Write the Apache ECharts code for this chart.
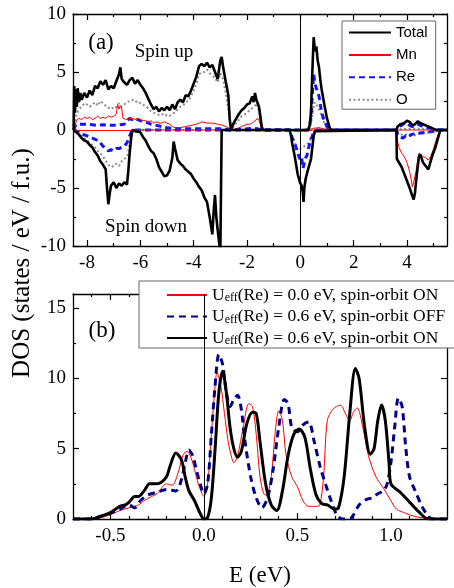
<!DOCTYPE html>
<html>
<head>
<meta charset="utf-8">
<script src="https://cdn.jsdelivr.net/npm/echarts@6/dist/echarts.min.js"></script>
<style>
  html, body { margin: 0; padding: 0; background: #fff; }
  #chart { width: 454px; height: 588px; }
</style>
</head>
<body>
<div id="chart"></div>
<script>
// panel (a): DOS, spin up > 0, spin down < 0, pairs [E, DOS]
var totalUp = [[-8.5,0],[-8.48,3.8],[-8.45,1.5],[-8.42,3.5],[-8.38,2.0],[-8.35,3.6],[-8.3,2.4],[-8.25,3.2],[-8.2,2.6],[-8.1,3.2],[-8.0,2.8],[-7.9,3.4],[-7.8,3.0],[-7.7,3.8],[-7.6,3.6],[-7.5,4.2],[-7.4,3.9],[-7.3,4.3],[-7.2,3.5],[-7.1,3.8],[-7.0,3.6],[-6.9,4.2],[-6.8,4.8],[-6.75,5.4],[-6.7,4.4],[-6.6,4.1],[-6.5,3.9],[-6.4,4.3],[-6.3,4.5],[-6.2,4.0],[-6.1,4.3],[-6.0,3.9],[-5.9,3.6],[-5.8,3.2],[-5.7,2.7],[-5.6,2.2],[-5.5,1.8],[-5.4,2.0],[-5.3,1.6],[-5.2,1.9],[-5.1,1.7],[-5.0,2.0],[-4.9,1.7],[-4.8,2.2],[-4.7,1.8],[-4.6,2.4],[-4.5,2.6],[-4.4,2.4],[-4.3,3.0],[-4.2,2.9],[-4.1,3.4],[-4.0,4.0],[-3.9,4.6],[-3.8,5.5],[-3.7,5.7],[-3.6,5.5],[-3.5,5.8],[-3.4,5.4],[-3.3,5.6],[-3.2,5.0],[-3.1,4.4],[-3.0,6.0],[-2.95,6.3],[-2.9,5.5],[-2.8,4.2],[-2.7,3.0],[-2.65,1.0],[-2.6,0],[-2.5,0.6],[-2.4,1.0],[-2.3,1.4],[-2.2,1.7],[-2.1,1.9],[-2.0,2.2],[-1.9,2.3],[-1.8,2.9],[-1.75,2.4],[-1.7,3.2],[-1.65,2.6],[-1.6,2.7],[-1.55,2.0],[-1.5,1.2],[-1.45,0.3],[-1.4,0],[0.3,0],[0.35,0.4],[0.4,1.5],[0.45,5.0],[0.5,8.0],[0.55,6.8],[0.6,7.2],[0.65,6.0],[0.7,5.4],[0.75,4.3],[0.8,3.5],[0.9,2.2],[1.0,1.0],[1.1,0.2],[1.15,0],[3.6,0],[3.65,0.3],[3.75,0.5],[3.9,0.6],[4.0,0.8],[4.1,0.7],[4.2,0.4],[4.3,0.5],[4.4,0.75],[4.5,0.6],[4.6,0.5],[4.7,0.4],[4.8,0.3],[4.9,0.2],[5.0,0.1],[5.1,0],[5.5,0]];
var totalDown = [[-8.5,0],[-8.4,-0.2],[-8.3,-0.4],[-8.2,-0.7],[-8.1,-0.9],[-8.0,-1.0],[-7.9,-1.3],[-7.8,-1.5],[-7.7,-1.9],[-7.6,-2.2],[-7.5,-2.7],[-7.4,-3.0],[-7.3,-3.4],[-7.25,-5.0],[-7.2,-6.4],[-7.15,-5.5],[-7.1,-4.8],[-7.0,-4.5],[-6.9,-5.0],[-6.8,-4.6],[-6.7,-4.8],[-6.6,-4.5],[-6.5,-4.7],[-6.45,-3.5],[-6.4,-2.0],[-6.35,-0.8],[-6.3,0],[-6.2,-0.1],[-6.0,-0.2],[-5.9,-0.6],[-5.8,-0.9],[-5.7,-1.4],[-5.6,-1.8],[-5.5,-2.0],[-5.4,-2.5],[-5.3,-3.2],[-5.2,-3.6],[-5.1,-4.0],[-5.0,-3.9],[-4.9,-3.5],[-4.8,-2.4],[-4.75,-1.0],[-4.7,-1.6],[-4.6,-2.6],[-4.5,-2.9],[-4.4,-3.1],[-4.3,-3.4],[-4.2,-3.6],[-4.1,-3.8],[-4.0,-4.2],[-3.9,-4.5],[-3.8,-4.9],[-3.7,-5.2],[-3.6,-5.8],[-3.5,-6.2],[-3.4,-7.5],[-3.3,-9.0],[-3.25,-7.0],[-3.2,-5.6],[-3.15,-7.5],[-3.1,-8.6],[-3.05,-9.6],[-3.0,-10.5],[-2.97,-10.5],[-2.95,0],[-0.4,0],[-0.35,-0.5],[-0.3,-1.2],[-0.2,-2.4],[-0.1,-3.8],[0.0,-4.6],[0.05,-4.8],[0.1,-5.5],[0.12,-6.2],[0.15,-5.0],[0.2,-4.2],[0.3,-3.3],[0.4,-2.5],[0.45,-1.5],[0.5,-0.5],[0.55,-0.1],[0.6,0],[3.6,0],[3.62,-2.5],[3.7,-2.8],[3.8,-3.2],[3.9,-3.8],[4.0,-4.4],[4.1,-5.0],[4.2,-5.7],[4.25,-6.0],[4.3,-5.4],[4.35,-4.2],[4.4,-3.2],[4.45,-2.3],[4.5,-2.1],[4.6,-2.8],[4.7,-3.1],[4.8,-3.4],[4.85,-3.3],[4.9,-2.6],[4.95,-2.2],[5.05,-1.6],[5.15,-0.8],[5.25,0],[5.5,0]];
var mnUp = [[-8.5,0],[-8.45,0.3],[-8.4,0.8],[-8.3,1.0],[-8.2,0.9],[-8.1,1.1],[-8.0,1.0],[-7.9,1.1],[-7.8,0.9],[-7.7,1.0],[-7.6,1.2],[-7.5,1.0],[-7.4,1.1],[-7.3,1.0],[-7.2,1.2],[-7.1,1.1],[-7.0,1.2],[-6.9,1.4],[-6.85,2.2],[-6.8,1.8],[-6.75,2.1],[-6.7,1.9],[-6.65,1.0],[-6.6,0.9],[-6.5,0.9],[-6.4,1.0],[-6.3,1.0],[-6.2,0.9],[-6.1,1.0],[-6.0,0.9],[-5.9,0.8],[-5.8,0.8],[-5.7,0.7],[-5.6,0.8],[-5.5,0.6],[-5.4,0.7],[-5.3,0.6],[-5.2,0.6],[-5.1,0.7],[-5.0,0.6],[-4.9,0.5],[-4.8,0.3],[-4.7,0.2],[-4.5,0.2],[-4.3,0.3],[-4.1,0.4],[-3.9,0.5],[-3.7,0.7],[-3.5,0.6],[-3.3,0.6],[-3.1,0.5],[-2.9,0.4],[-2.7,0.2],[-2.6,0],[-2.4,0.1],[-2.2,0.3],[-2.0,0.5],[-1.9,0.5],[-1.8,0.6],[-1.7,0.8],[-1.6,1.0],[-1.55,0.8],[-1.5,0.5],[-1.45,0],[0.3,0],[0.5,0.15],[0.7,0.2],[0.9,0.1],[1.0,0],[5.5,0]];
var mnDown = [[-8.5,0],[-8.3,-0.05],[-6.3,-0.05],[-6.2,0],[-0.4,0],[-0.2,-0.1],[0.2,-0.1],[0.5,0],[3.6,0],[3.65,-1.0],[3.7,-1.5],[3.8,-2.0],[3.9,-2.3],[4.0,-2.8],[4.1,-3.6],[4.15,-4.2],[4.2,-4.9],[4.25,-4.5],[4.3,-4.0],[4.35,-3.4],[4.4,-2.6],[4.45,-2.0],[4.5,-1.9],[4.6,-2.3],[4.7,-2.4],[4.8,-2.6],[4.85,-2.5],[4.9,-2.2],[5.0,-1.6],[5.1,-0.8],[5.2,-0.2],[5.25,0],[5.5,0]];
var reUp = [[-8.5,0],[-8.45,0.3],[-8.4,0.5],[-8.2,0.5],[-8.0,0.5],[-7.8,0.45],[-7.6,0.4],[-7.4,0.45],[-7.2,0.4],[-7.0,0.4],[-6.8,0.45],[-6.6,0.5],[-6.5,0.8],[-6.4,1.0],[-6.3,0.9],[-6.2,1.0],[-6.0,0.8],[-5.8,0.7],[-5.6,0.5],[-5.4,0.4],[-5.2,0.3],[-5.0,0.2],[-4.8,0.15],[-4.5,0.1],[-4.0,0.1],[-3.5,0.1],[-3.0,0.1],[-2.6,0],[-2.4,0.05],[-2.0,0.1],[-1.8,0.15],[-1.6,0.1],[-1.45,0],[0.3,0],[0.35,0.3],[0.4,1.2],[0.45,3.0],[0.5,4.8],[0.55,4.0],[0.6,3.6],[0.65,3.3],[0.7,2.9],[0.75,2.2],[0.8,1.5],[0.9,0.8],[1.0,0.3],[1.1,0],[3.6,0],[3.7,0.3],[3.8,0.4],[3.9,0.6],[4.0,0.6],[4.1,0.4],[4.2,0.3],[4.3,0.4],[4.4,0.5],[4.5,0.4],[4.6,0.3],[4.8,0.2],[5.0,0.1],[5.1,0],[5.5,0]];
var reDown = [[-8.5,0],[-8.4,-0.1],[-8.3,-0.2],[-8.2,-0.35],[-8.0,-0.5],[-7.9,-0.6],[-7.8,-0.7],[-7.6,-0.9],[-7.5,-1.1],[-7.4,-1.4],[-7.3,-1.6],[-7.2,-1.8],[-7.1,-1.7],[-7.0,-1.8],[-6.9,-1.6],[-6.8,-1.6],[-6.7,-1.5],[-6.6,-1.4],[-6.5,-1.1],[-6.4,-0.5],[-6.3,0],[-0.4,0],[-0.35,-0.3],[-0.3,-0.7],[-0.2,-1.2],[-0.1,-2.0],[0.0,-2.6],[0.05,-2.4],[0.1,-3.3],[0.15,-2.8],[0.2,-2.4],[0.25,-2.2],[0.3,-1.6],[0.4,-0.8],[0.5,-0.2],[0.6,0],[3.6,0],[3.65,-0.4],[3.75,-0.6],[3.85,-0.7],[3.95,-0.5],[4.05,-0.6],[4.15,-0.4],[4.3,-0.3],[4.5,-0.25],[4.7,-0.2],[5.0,-0.1],[5.2,0],[5.5,0]];
var oUp = [[-8.5,0],[-8.45,0.5],[-8.4,1.3],[-8.3,1.8],[-8.2,2.0],[-8.1,2.3],[-8.0,2.2],[-7.9,2.0],[-7.8,2.2],[-7.7,2.4],[-7.6,2.1],[-7.5,2.5],[-7.4,2.3],[-7.3,2.1],[-7.2,1.9],[-7.1,2.0],[-7.0,1.8],[-6.9,2.0],[-6.8,2.3],[-6.7,2.0],[-6.6,2.2],[-6.5,2.4],[-6.4,2.5],[-6.3,2.6],[-6.2,2.4],[-6.1,2.5],[-6.0,2.3],[-5.9,2.2],[-5.8,2.0],[-5.7,1.9],[-5.6,1.6],[-5.5,1.5],[-5.4,1.4],[-5.3,1.3],[-5.2,1.4],[-5.1,1.2],[-5.0,1.3],[-4.9,1.2],[-4.8,1.4],[-4.7,1.5],[-4.6,1.8],[-4.5,2.0],[-4.4,2.1],[-4.3,2.4],[-4.2,2.5],[-4.1,2.9],[-4.0,3.4],[-3.9,4.0],[-3.8,4.8],[-3.7,5.0],[-3.6,5.0],[-3.5,5.2],[-3.4,4.9],[-3.3,4.7],[-3.2,4.5],[-3.1,4.1],[-3.0,4.9],[-2.95,5.0],[-2.9,4.4],[-2.8,3.2],[-2.7,1.8],[-2.65,0.7],[-2.6,0.1],[-2.5,0.3],[-2.4,0.6],[-2.3,0.9],[-2.2,1.2],[-2.1,1.3],[-2.0,1.5],[-1.9,1.7],[-1.8,1.9],[-1.7,2.1],[-1.65,2.3],[-1.6,2.0],[-1.55,1.6],[-1.5,0.8],[-1.45,0.2],[-1.4,0],[0.3,0],[0.4,0.5],[0.45,1.2],[0.5,2.0],[0.55,2.4],[0.6,2.2],[0.65,2.0],[0.7,1.8],[0.75,1.5],[0.8,1.2],[0.9,0.6],[1.0,0.2],[1.1,0],[3.6,0],[3.7,0.05],[4.0,0.1],[4.5,0.1],[5.0,0.05],[5.1,0],[5.5,0]];
var oDown = [[-8.5,0],[-8.4,-0.1],[-8.3,-0.3],[-8.2,-0.5],[-8.1,-0.7],[-8.0,-0.9],[-7.9,-1.1],[-7.8,-1.3],[-7.7,-1.5],[-7.6,-1.8],[-7.5,-2.0],[-7.4,-2.3],[-7.3,-2.6],[-7.2,-3.0],[-7.1,-3.2],[-7.0,-3.1],[-6.9,-2.9],[-6.8,-3.1],[-6.7,-2.7],[-6.6,-2.5],[-6.5,-2.3],[-6.45,-1.8],[-6.4,-1.1],[-6.35,-0.4],[-6.3,0],[-0.4,0],[-0.35,-0.3],[-0.3,-0.6],[-0.2,-1.1],[-0.1,-1.7],[-0.05,-1.8],[0.0,-1.6],[0.1,-1.5],[0.2,-1.3],[0.3,-1.1],[0.4,-0.7],[0.5,-0.2],[0.6,0],[3.6,0],[3.7,-0.3],[3.8,-0.4],[3.9,-0.35],[4.0,-0.4],[4.1,-0.5],[4.2,-0.5],[4.3,-0.45],[4.4,-0.35],[4.5,-0.3],[4.7,-0.25],[4.9,-0.2],[5.1,-0.1],[5.2,0],[5.5,0]];

// panel (b): DOS near the Fermi level
var u00SoOn = [[-0.7,0],[-0.58,0],[-0.55,0.1],[-0.5,0.3],[-0.45,0.6],[-0.4,0.8],[-0.35,1.0],[-0.32,1.3],[-0.28,1.6],[-0.25,1.8],[-0.2,2.5],[-0.17,2.4],[-0.14,3.2],[-0.11,4.6],[-0.09,4.8],[-0.07,4.4],[-0.05,3.5],[-0.03,2.5],[-0.01,1.8],[0.0,1.6],[0.02,2.5],[0.04,6.0],[0.06,9.5],[0.07,10.4],[0.09,9.5],[0.11,7.5],[0.13,5.5],[0.15,4.3],[0.16,4.0],[0.18,4.5],[0.21,6.5],[0.24,8.2],[0.26,8.0],[0.28,6.0],[0.3,3.0],[0.32,1.8],[0.335,1.7],[0.36,3.0],[0.38,6.0],[0.4,7.7],[0.42,7.0],[0.44,4.5],[0.47,3.0],[0.5,2.3],[0.53,1.3],[0.56,0.9],[0.6,0.9],[0.62,1.0],[0.64,3.0],[0.66,7.0],[0.69,7.8],[0.73,8.1],[0.76,7.4],[0.78,7.0],[0.8,7.6],[0.82,7.9],[0.85,6.5],[0.88,4.5],[0.92,3.0],[0.96,2.2],[1.0,1.3],[1.03,0.7],[1.08,0.4],[1.12,0.2],[1.18,0.05],[1.2,0],[1.3,0]];
var u06SoOff = [[-0.7,0],[-0.6,0],[-0.55,0.2],[-0.5,0.4],[-0.45,0.7],[-0.4,1.0],[-0.37,0.8],[-0.34,1.3],[-0.3,1.7],[-0.25,1.9],[-0.2,2.1],[-0.15,2.0],[-0.12,2.8],[-0.1,4.0],[-0.08,4.9],[-0.06,4.5],[-0.04,3.5],[-0.02,2.5],[0.0,1.8],[0.02,2.5],[0.04,6.0],[0.06,9.5],[0.08,11.7],[0.1,11.0],[0.12,9.0],[0.14,8.0],[0.16,8.5],[0.18,8.8],[0.2,7.8],[0.22,5.5],[0.25,3.0],[0.28,1.5],[0.31,0.8],[0.34,1.5],[0.37,3.5],[0.4,6.5],[0.43,8.5],[0.45,8.2],[0.47,6.5],[0.5,6.2],[0.53,6.7],[0.56,6.9],[0.59,5.5],[0.62,3.8],[0.65,2.5],[0.68,1.3],[0.71,0.3],[0.74,0],[0.78,0],[0.8,0.3],[0.83,1.0],[0.87,1.4],[0.9,1.5],[0.93,1.8],[0.96,2.0],[0.98,2.5],[1.0,4.0],[1.02,6.5],[1.04,8.6],[1.06,8.0],[1.08,5.0],[1.1,3.0],[1.13,2.0],[1.17,0.8],[1.2,0.2],[1.22,0],[1.3,0]];
var u06SoOn = [[-0.7,0],[-0.6,0],[-0.55,0.2],[-0.5,0.45],[-0.45,0.9],[-0.42,1.0],[-0.4,1.2],[-0.37,1.6],[-0.35,1.6],[-0.32,2.0],[-0.29,2.5],[-0.26,2.5],[-0.23,2.6],[-0.2,3.0],[-0.18,3.8],[-0.15,4.7],[-0.12,4.2],[-0.1,3.0],[-0.08,2.0],[-0.05,1.3],[-0.02,0.4],[0.0,0],[0.02,0.1],[0.04,1.5],[0.06,5.0],[0.08,9.0],[0.1,10.5],[0.12,9.0],[0.14,6.5],[0.16,5.0],[0.18,4.4],[0.2,4.8],[0.23,6.8],[0.26,7.6],[0.28,7.5],[0.3,5.5],[0.33,2.5],[0.36,1.0],[0.39,0.6],[0.42,2.0],[0.45,4.5],[0.48,6.0],[0.51,6.4],[0.54,5.8],[0.57,3.5],[0.6,1.7],[0.63,1.1],[0.66,1.0],[0.7,0.7],[0.72,0.8],[0.75,3.0],[0.78,7.5],[0.81,10.7],[0.83,10.0],[0.86,6.5],[0.89,4.6],[0.91,5.0],[0.93,7.0],[0.95,8.1],[0.97,7.0],[0.99,4.0],[1.0,2.5],[1.05,1.9],[1.1,1.2],[1.15,0.5],[1.2,0],[1.3,0]];

// ticks
var aXMajor = [-8, -6, -4, -2, 0, 2, 4];
var aXMinor = [-7, -5, -3, -1, 1, 3, 5];
var aYMajor = [-10, -5, 0, 5, 10];
var aYMinor = [-7.5, -2.5, 2.5, 7.5];
var bXMajor = [-0.5, 0, 0.5, 1.0];
var bXMinor = [-0.6, -0.4, -0.3, -0.2, -0.1, 0.1, 0.2, 0.3, 0.4, 0.6, 0.7, 0.8, 0.9, 1.1, 1.2];
var bYMajor = [0, 5, 10, 15];
var bYMinor = [2.5, 7.5, 12.5];

var serif = 'Liberation Serif';

// 4 axes per dimension: main + minor ticks, on both sides
function makeAxes(grid, dim, min, max, majors, minors, fmt) {
  var sides = dim === 'x' ? ['bottom', 'top'] : ['left', 'right'];
  var out = [];
  sides.forEach(function (pos, si) {
    [true, false].forEach(function (isMajor) {
      out.push({
        type: 'value', gridIndex: grid, min: min, max: max, position: pos,
        axisLine: { show: isMajor, onZero: false, lineStyle: { color: '#000', width: 1.3 } },
        axisTick: {
          show: true, inside: true, length: isMajor ? 6 : 3,
          customValues: isMajor ? majors : minors,
          lineStyle: { color: '#000', width: 1.2 }
        },
        axisLabel: {
          show: isMajor && si === 0, customValues: majors, formatter: fmt,
          fontFamily: serif, fontSize: 19, color: '#000', margin: dim === 'x' ? 8 : 7
        },
        splitLine: { show: false }
      });
    });
  });
  return out;
}

var intFmt = function (v) { return String(Math.round(v)); };
var oneFmt = function (v) { return v.toFixed(1); };

var xAxes = makeAxes(0, 'x', -8.525, 5.5, aXMajor, aXMinor, intFmt)
  .concat(makeAxes(1, 'x', -0.7, 1.3, bXMajor, bXMinor, oneFmt));
var yAxes = makeAxes(0, 'y', -10, 10, aYMajor, aYMinor, intFmt)
  .concat(makeAxes(1, 'y', 0, 16, bYMajor, bYMinor, intFmt));
xAxes[4].name = 'E (eV)';
xAxes[4].nameLocation = 'middle';
xAxes[4].nameGap = 45;
xAxes[4].nameTextStyle = { fontFamily: serif, fontSize: 23, color: '#000' };

var zeroLine = {
  silent: true, symbol: 'none', label: { show: false },
  lineStyle: { color: '#000', width: 1, type: 'solid' },
  data: [{ xAxis: 0 }]
};

function line(name, data, grid, color, width, dash, extra) {
  var s = {
    type: 'line', name: name, data: data,
    xAxisIndex: grid * 4, yAxisIndex: grid * 4,
    symbol: 'none', showSymbol: false, clip: true,
    lineStyle: { color: color, width: width, type: dash || 'solid' },
    itemStyle: { color: color }
  };
  for (var k in extra) s[k] = extra[k];
  return s;
}

var series = [
  line('O', oUp, 0, '#8c8c8c', 2, [2, 2.5], { markLine: zeroLine }),
  line('O', oDown, 0, '#8c8c8c', 2, [2, 2.5]),
  line('Re', reUp, 0, '#1414ff', 3, [6, 4]),
  line('Re', reDown, 0, '#1414ff', 3, [6, 4]),
  line('Mn', mnUp, 0, '#ff0000', 1),
  line('Mn', mnDown, 0, '#ff0000', 1),
  line('Total', totalUp, 0, '#000', 2.6),
  line('Total', totalDown, 0, '#000', 2.6),
  line('Ueff(Re) = 0.0 eV, spin-orbit ON', u00SoOn, 1, '#ff0000', 1, null, { smooth: 0.3, markLine: zeroLine }),
  line('Ueff(Re) = 0.6 eV, spin-orbit OFF', u06SoOff, 1, '#00008b', 3, [7, 5], { smooth: 0.3 }),
  line('Ueff(Re) = 0.6 eV, spin-orbit ON', u06SoOn, 1, '#000', 3, null, { smooth: 0.3 })
];

var chart = echarts.init(document.getElementById('chart'));
chart.setOption({
  animation: false,
  backgroundColor: '#fff',
  grid: [
    { left: 73, top: 14, width: 374, height: 232 },
    { left: 73, top: 294, width: 374, height: 232 }
  ],
  xAxis: xAxes,
  yAxis: yAxes,
  legend: [
    {
      data: ['Total', 'Mn', 'Re', 'O'],
      left: 342, top: 21, orient: 'vertical',
      itemWidth: 42, itemHeight: 14, itemGap: 7.4,
      padding: [4, 8, 2, 6],
      borderColor: '#666', borderWidth: 1, backgroundColor: '#fff',
      selectedMode: false,
      itemStyle: { opacity: 0 },
      textStyle: { fontFamily: 'Liberation Sans', fontSize: 15, color: '#000' }
    },
    {
      data: ['Ueff(Re) = 0.0 eV, spin-orbit ON', 'Ueff(Re) = 0.6 eV, spin-orbit OFF', 'Ueff(Re) = 0.6 eV, spin-orbit ON'],
      left: 139, top: 281, orient: 'vertical',
      itemWidth: 40, itemHeight: 14, itemGap: 3.5,
      padding: [5, 30, 1, 27],
      borderColor: '#666', borderWidth: 1, backgroundColor: '#fff',
      selectedMode: false,
      itemStyle: { opacity: 0 },
      formatter: function (name) {
        return '{u|U}{s|eff}{t|' + name.slice(4) + '}';
      },
      textStyle: {
        fontFamily: serif, fontSize: 17.5, lineHeight: 18, color: '#000',
        rich: {
          u: { fontFamily: serif, fontSize: 17.5, lineHeight: 18, verticalAlign: 'bottom' },
          s: { fontFamily: serif, fontSize: 12, lineHeight: 13, verticalAlign: 'bottom' },
          t: { fontFamily: serif, fontSize: 17.5, lineHeight: 18, verticalAlign: 'bottom' }
        }
      }
    }
  ],
  graphic: [
    { type: 'text', x: 22, y: 263, rotation: Math.PI / 2,
      style: { text: 'DOS (states / eV / f.u.)', font: '25px "Liberation Serif"', fill: '#000', textAlign: 'center', textVerticalAlign: 'middle' } },
    { type: 'text', x: 101, y: 43,
      style: { text: '(a)', font: '23px "Liberation Serif"', fill: '#000', textAlign: 'center', textVerticalAlign: 'middle' } },
    { type: 'text', x: 164, y: 52,
      style: { text: 'Spin up', font: '19px "Liberation Serif"', fill: '#000', textAlign: 'center', textVerticalAlign: 'middle' } },
    { type: 'text', x: 146, y: 227,
      style: { text: 'Spin down', font: '19px "Liberation Serif"', fill: '#000', textAlign: 'center', textVerticalAlign: 'middle' } },
    { type: 'text', x: 102, y: 331,
      style: { text: '(b)', font: '23px "Liberation Serif"', fill: '#000', textAlign: 'center', textVerticalAlign: 'middle' } }
  ],
  series: series
});
</script>
</body>
</html>
